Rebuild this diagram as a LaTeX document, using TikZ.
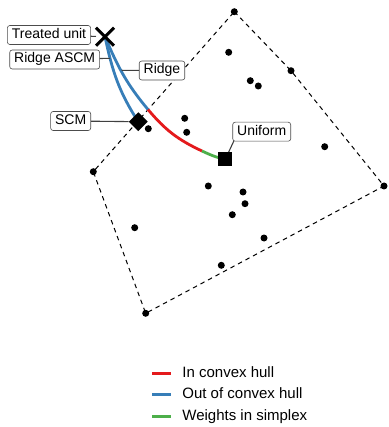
\documentclass[tikz,border=0pt]{standalone}
\usepackage{fontspec}
\setmainfont{Liberation Sans}
\usetikzlibrary{positioning,backgrounds,shapes.misc,shapes.geometric}
\definecolor{colorIn}{HTML}{E41A1C}
\definecolor{colorOut}{HTML}{377EB8}
\definecolor{colorSimp}{HTML}{4DAF4A}

\begin{document}
\begin{tikzpicture}[x=1pt,y=-1pt,dot/.style={circle,fill,inner sep=0pt,minimum size=7pt},lab/.style={draw=black!70,line width=0.6pt,rounded corners=2.5pt,fill=white,inner xsep=4.5pt,inner ysep=3pt,text height=10pt,text depth=3pt,font=\fontsize{14}{16}\selectfont},lead/.style={draw=black!75,line width=1.1pt},hull/.style={line width=1pt,dash pattern=on 4.5pt off 4pt},est/.style={line width=2.8pt},keyline/.style={inner sep=0pt,minimum width=19pt,minimum height=2.8pt},leg/.style={inner sep=0pt,text height=11pt,text depth=3pt,font=\fontsize{15}{18}\selectfont},]
    \useasboundingbox (0,0) rectangle (388,427);
    \node [dot] (ht) at (234.3,11.7) {};
    \node [dot] (hr1) at (291,70.7) {};
    \node [dot] (hr) at (384,186) {};
    \node [dot] (hb) at (145.7,313.3) {};
    \node [dot] (hl) at (93.3,171.7) {};
    \foreach \x/\y [count=\i] in {228.7/52.3,250.3/80.7,258.3/86,184.7/118.3,186.7/132.3,148.3/128.7,324.7/146.7,208.3/186,243/192,245/203.7,232.3/214.7,134.7/227.7,264/238,221.3/265.3}
        \node [dot] (p\i) at (\x,\y) {};
    \node [cross out, draw, line width=3pt, minimum size=15pt, inner sep=0pt] (X) at (105,36.7) {};
    \node [diamond, fill, inner sep=0pt, minimum width=19pt, minimum height=19pt] (D) at (138.3,121.7) {};
    \node [rectangle, fill, inner sep=0pt, minimum size=14pt] (U) at (225.3,159.3) {};
    \coordinate (hc) at (148,109.5);
    \coordinate (rg) at (202,151);
    \coordinate (ascmpt) at (110,58.3);
    \coordinate (ridgept) at (121.7,70.3);
    \begin{scope}[on background layer]
        \draw [hull] (ht.center) -- (hr1.center) -- (hr.center) -- (hb.center) -- (hl.center) -- cycle;
        \draw [est, colorOut] (X.center) to[out=-78,in=123] (D.center);
        \draw [est, colorOut] (X.center) to[out=-67,in=130] (hc);
        \draw [est, colorIn] (hc) to[out=-50,in=155] (rg);
        \draw [est, colorSimp] (rg) to[out=-25,in=168] (U.center);
        \draw [lead] (49,35) -- (X);
        \draw [lead] (54.7,59.5) -- (ascmpt);
        \draw [lead] (162,70.5) -- (ridgept);
        \draw [lead] (70.7,121) -- (D);
        \draw [lead] (234.3,140) -- (U);
    \end{scope}
    \node [lab] (tu) at (49,35) {Treated unit};
    \node [lab] (ra) at (54.7,59.5) {Ridge ASCM};
    \node [lab] (rl) at (162,70.5) {Ridge};
    \node [lab] (scm) at (70.7,121) {SCM};
    \node [lab] (un) at (261.7,131.7) {Uniform};
    \node [keyline, fill=colorIn] (k1) at (161.5,373.3) {};
    \node [keyline, fill=colorOut, below=18.2pt of k1] (k2) {};
    \node [keyline, fill=colorSimp, below=18.2pt of k2] (k3) {};
    \node [leg, right=11pt of k1] (t1) {In convex hull};
    \node [leg, right=11pt of k2] (t2) {Out of convex hull};
    \node [leg, right=11pt of k3] (t3) {Weights in simplex};
\end{tikzpicture}
\end{document}
